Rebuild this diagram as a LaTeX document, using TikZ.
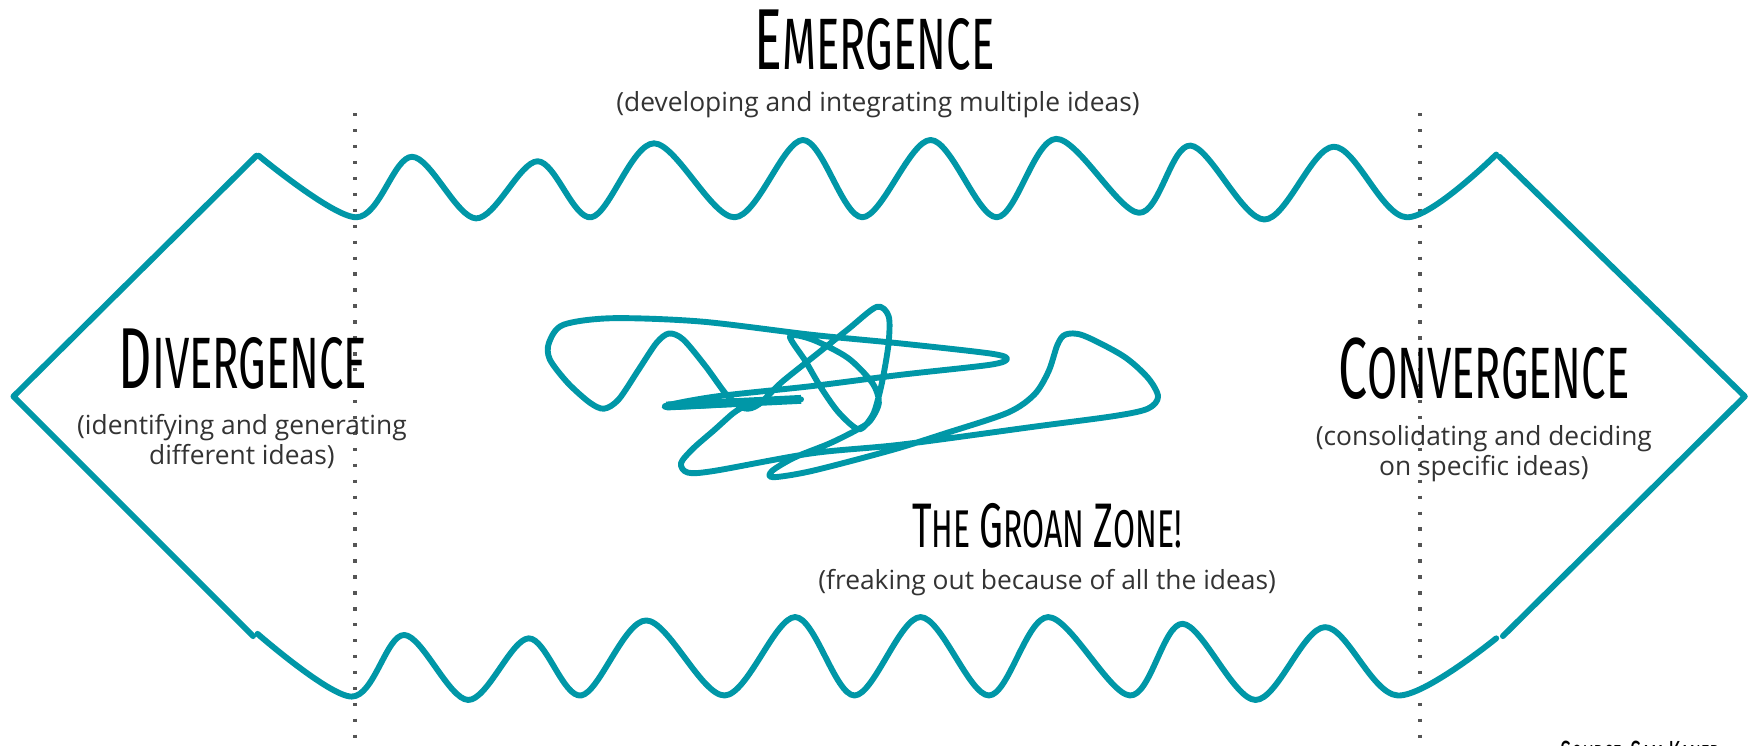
\documentclass[tikz,border=0pt]{standalone}
\usepackage{fontspec}
\setmainfont{Open Sans}
\newfontfamily\handfont[FakeStretch=0.6]{Fira Sans}
\usetikzlibrary{positioning}

\definecolor{zoneteal}{HTML}{0097A7}
\definecolor{guidegray}{HTML}{555555}
\definecolor{notegray}{HTML}{333333}

% big first letter, smaller rest (small caps look)
\newcommand{\capword}[4]{{\fontsize{#1}{#1}\selectfont #3}{\fontsize{#2}{#2}\selectfont #4}}

\begin{document}
\begin{tikzpicture}[
        x=0.02cm, y=-0.02cm,
        wave/.style={draw=zoneteal, line width=3pt, line cap=round, line join=round},
        guide/.style={draw=guidegray, line width=1.7pt, dash pattern=on 1.7pt off 6.4pt},
        title/.style={font=\handfont\fontsize{30}{30}\selectfont, anchor=base, inner sep=0pt},
        note/.style={font=\fontsize{13.4}{15.3}\selectfont, text=notegray,
                     align=center, anchor=base, inner sep=0pt}
    ]
        \useasboundingbox (0,0) rectangle (1568,666);

        % guides
        \draw[guide] (317,101) -- (317,680);
        \draw[guide] (1268,101) -- (1268,680);

        % left and right points
        \draw[wave] (229,139) -- (12,354) -- (226,568);
        \draw[wave] (1339,140) -- (1558,354) -- (1342,568);

        % top and bottom waves
        \draw[wave] plot[smooth, tension=0.55] coordinates {(231,139) (318,194) (368,140) (425,195)
            (480,144) (528,194) (584,128) (656,194) (717,125) (770,194) (831,125) (890,194)
            (943,124) (1017,190) (1063,130) (1129,196) (1191,131) (1256,194) (1336,138)};
        \draw[wave] plot[smooth, tension=0.55] coordinates {(230,566) (314,622) (361,567) (418,625)
            (472,570) (519,621) (577,554) (647,621) (710,551) (763,621) (822,551) (883,621)
            (936,551) (1009,621) (1056,557) (1121,625) (1183,560) (1248,621) (1336,570)};

        % the scribble
        \begin{scope}[shift={(447.3,258.6)}, xscale=0.397, yscale=0.297]
            \draw[wave, line width=4.5pt, line cap=butt] (372,350) -- (675,330);
            \draw[wave] plot[smooth, tension=0.5] coordinates {(675,330) (520,344) (368,352)
                (480,322) (700,290) (900,256) (1100,226) (1138,208) (1100,192) (900,162)
                (700,136) (450,96) (250,86) (140,106) (108,160) (110,210) (150,280) (200,340)
                (232,358) (265,330) (310,240) (350,160) (378,132) (410,150) (460,230) (510,320)
                (548,357) (580,345) (630,280) (700,205) (780,120) (845,52) (872,80) (872,160)
                (860,260) (848,330) (835,380) (805,420) (760,370) (720,295) (685,215) (650,140)
                (700,150) (780,205) (835,280) (850,340) (830,395) (800,422) (740,462) (660,505)
                (610,545) (612,564) (700,545) (880,482) (1000,432) (1140,370) (1200,315)
                (1232,245) (1252,165) (1270,135) (1310,138) (1400,200) (1455,265) (1478,322)
                (1455,358) (1380,380) (1200,412) (900,466) (700,492) (480,545) (420,550)
                (405,522) (432,478) (480,422) (522,372) (548,350)};
        \end{scope}

        % texts
        \node[title] (emergence) at (781,62) {\capword{44}{37}{E}{MERGENCE}};
        \node[note] (emergencenote) at (784,100) {(developing and integrating multiple ideas)};

        \node[title] (divergence) at (217,347) {\capword{44}{37}{D}{IVERGENCE}};
        \node[note] (divergencenote) at (216,415) {(identifying and generating\\different ideas)};

        \node[title] (convergence) at (1325,356) {\capword{44}{37}{C}{ONVERGENCE}};
        \node[note] (convergencenote) at (1325,425) {(consolidating and deciding\\on specific ideas)};

        \node[title] (groan) at (935,489) {\capword{32}{27}{T}{HE} \capword{32}{27}{G}{ROAN} \capword{32}{27}{Z}{ONE!}};
        \node[note] (groannote) at (935,526) {(freaking out because of all the ideas)};

        \node[title, font=\handfont\fontsize{15}{15}\selectfont, anchor=north west] (source) at (1393,661)
            {\capword{17}{14}{S}{OURCE:} \capword{17}{14}{S}{AM} \capword{17}{14}{K}{ANER}};
    \end{tikzpicture}
\end{document}
